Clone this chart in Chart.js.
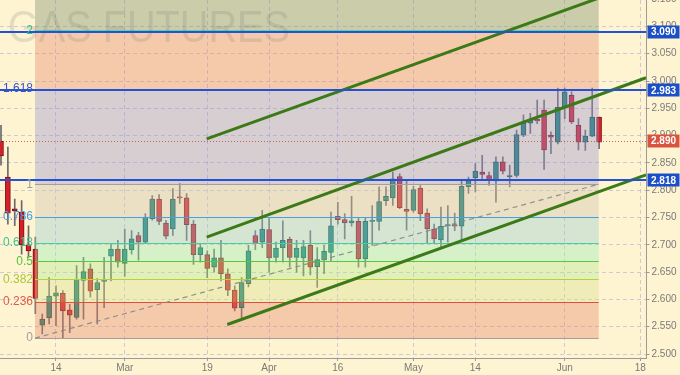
<!DOCTYPE html>
<html>
<head>
<meta charset="utf-8">
<script src="https://cdn.jsdelivr.net/npm/chart.js@4.4.1/dist/chart.umd.min.js"></script>
<style>
html,body{margin:0;padding:0;background:#fef4d2;}
canvas{display:block;}
</style>
</head>
<body>
<canvas id="grafico" width="680" height="375"></canvas>
<script>

// =====================================
// DATA
// =====================================

const opens = [
2.890,2.824,2.766,2.760,2.700,2.692,2.553,2.566,2.606,2.611,
2.581,2.567,2.635,2.656,2.618,2.633,2.679,2.692,2.666,2.691,
2.717,2.705,2.748,2.784,2.740,2.729,2.787,2.786,2.738,2.682,
2.682,2.659,2.676,2.647,2.617,2.585,2.629,2.717,2.705,2.728,
2.677,2.695,2.710,2.677,2.676,2.699,2.660,2.673,2.686,2.752,
2.746,2.740,2.743,2.674,2.743,2.743,2.781,2.786,2.825,2.765,
2.763,2.804,2.758,2.729,2.709,2.735,2.737,2.734,2.806,2.823,
2.833,2.827,2.817,2.852,2.825,2.827,2.901,2.923,2.930,2.947,
2.901,2.888,2.952,2.974,2.919,2.888,2.899,2.934
];

const highs = [
2.919,2.879,2.784,2.781,2.735,2.714,2.573,2.640,2.625,2.616,
2.591,2.662,2.677,2.665,2.638,2.677,2.702,2.708,2.729,2.726,
2.723,2.757,2.790,2.792,2.745,2.803,2.812,2.794,2.745,2.702,
2.689,2.692,2.708,2.656,2.625,2.640,2.699,2.726,2.763,2.748,
2.705,2.744,2.714,2.708,2.708,2.726,2.695,2.699,2.760,2.778,
2.757,2.789,2.749,2.749,2.772,2.806,2.806,2.833,2.830,2.818,
2.807,2.809,2.766,2.738,2.769,2.772,2.758,2.818,2.824,2.849,
2.864,2.833,2.861,2.861,2.846,2.910,2.938,2.941,2.965,2.965,
2.907,2.987,2.987,2.980,2.931,2.910,2.987,2.934
];

const lows = [
2.846,2.738,2.735,2.683,2.677,2.574,2.537,2.555,2.552,2.530,
2.539,2.564,2.564,2.604,2.555,2.585,2.634,2.659,2.642,2.683,
2.672,2.702,2.745,2.737,2.711,2.717,2.776,2.708,2.664,2.668,
2.640,2.650,2.634,2.607,2.579,2.566,2.623,2.691,2.695,2.650,
2.668,2.668,2.659,2.650,2.643,2.645,2.622,2.647,2.671,2.738,
2.711,2.734,2.659,2.659,2.699,2.727,2.772,2.772,2.766,2.727,
2.760,2.744,2.702,2.702,2.695,2.705,2.726,2.708,2.794,2.797,
2.821,2.809,2.778,2.830,2.806,2.824,2.898,2.904,2.922,2.838,
2.867,2.885,2.931,2.922,2.874,2.873,2.898,2.876
];

const closes = [
2.863,2.758,2.762,2.700,2.689,2.602,2.564,2.606,2.612,2.579,
2.571,2.637,2.651,2.615,2.631,2.637,2.692,2.668,2.692,2.711,
2.705,2.751,2.784,2.743,2.716,2.784,2.786,2.737,2.682,2.695,
2.657,2.676,2.647,2.617,2.584,2.631,2.689,2.702,2.729,2.676,
2.694,2.708,2.677,2.694,2.697,2.659,2.673,2.688,2.735,2.746,
2.740,2.744,2.674,2.743,2.745,2.779,2.789,2.821,2.768,2.761,
2.801,2.757,2.729,2.711,2.734,2.737,2.734,2.807,2.817,2.835,
2.829,2.818,2.852,2.835,2.827,2.902,2.923,2.930,2.927,2.874,
2.897,2.952,2.980,2.925,2.888,2.899,2.934,2.888
];

const xTickPos    = [8, 18, 30, 39, 49, 60, 69, 82, 93];
const xTickLabels = ["14","Mar","19","Apr","16","May","14","Jun","18"];

const yTicks = [2.50,2.55,2.60,2.65,2.70,2.75,2.80,2.85,2.90,2.95,3.00,3.05,3.10,3.15];

// fibonacci: anchors (bar index, price) and levels
const fibStart = 4.95;
const fibEnd   = 86.95;
const fibLow   = 2.529;
const fibHigh  = 2.811;
const fibLevels = [0, 0.236, 0.382, 0.5, 0.618, 0.786, 1, 1.618, 2, 2.618];

// horizontal price marks
const blueLevels = [3.090, 2.983, 2.818];
const lastPrice = 2.890;

// channel lines (bar index, price)
const channelUpper  = [{x:29.92, y:2.894}, {x:93.83, y:3.183}];
const channelMiddle = [{x:29.92, y:2.714}, {x:93.83, y:3.006}];
const channelLower  = [{x:32.92, y:2.554}, {x:93.83, y:2.828}];
const fibTrend      = [{x:fibStart, y:fibLow}, {x:fibEnd, y:fibHigh}];


// =====================================
// STYLE
// =====================================

const FONT = "'Liberation Sans', Arial, sans-serif";

const zoneColors = [
    "rgb(232,139,110)",
    "rgb(221,224,145)",
    "rgb(181,234,145)",
    "rgb(156,234,185)",
    "rgb(156,204,210)",
    "rgb(211,194,175)",
    "rgb(158,149,210)",
    "rgb(232,139,110)",
    "rgb(128,147,110)"
];

const levelColors = [
    "#a0a0a0","#e0503c","#b4d23c","#5ac83c","#4ccc9c",
    "#4c9ee0","#a0a0a0","#3050d8","#5cd4a0","#5cd4a0"
];

const labelColors = [
    "#a0a0a0","#e05a46","#a8c83a","#52c43c","#3cc494",
    "#4a9ce0","#a0a0a0","#3a52c8","#3cc094","#3cc094"
];

function fibPrice(lv){
    return fibLow + lv*(fibHigh-fibLow);
}

function subiu(i){
    return closes[i] >= opens[i];
}


// =====================================
// PLUGIN: zonas, linhas e etiquetas
// =====================================

const fibPlugin = {
    id:"fib",

    afterDatasetDraw(chart, args){

        if(args.index !== 1) return;

        const {ctx, chartArea:a, scales:{x, y}} = chart;
        const x1 = x.getPixelForValue(fibStart);
        const x2 = x.getPixelForValue(fibEnd);

        ctx.save();
        ctx.beginPath();
        ctx.rect(a.left, a.top, a.right-a.left, a.bottom-a.top);
        ctx.clip();

        ctx.globalAlpha = 0.4;
        for(let k=0; k<fibLevels.length-1; k++){
            const ya = y.getPixelForValue(fibPrice(fibLevels[k]));
            const yb = y.getPixelForValue(fibPrice(fibLevels[k+1]));
            ctx.fillStyle = zoneColors[k];
            ctx.fillRect(x1, yb, x2-x1, ya-yb);
        }
        ctx.globalAlpha = 1;

        fibLevels.forEach((lv,k)=>{
            const yy = Math.round(y.getPixelForValue(fibPrice(lv))) + 0.5;
            ctx.strokeStyle = levelColors[k];
            ctx.lineWidth = 1;
            ctx.beginPath();
            ctx.moveTo(x1, yy);
            ctx.lineTo(x2, yy);
            ctx.stroke();
        });

        // marca d'agua
        ctx.font = "44px " + FONT;
        ctx.fillStyle = "rgba(105,105,105,0.18)";
        ctx.textBaseline = "alphabetic";
        ctx.textAlign = "left";
        ctx.fillText("GAS FUTURES", 8, 42, 282);

        ctx.restore();
    },

    afterDatasetsDraw(chart){

        const {ctx, chartArea:a, scales:{x, y}} = chart;

        ctx.save();
        ctx.beginPath();
        ctx.rect(a.left, a.top, a.right-a.left, a.bottom-a.top);
        ctx.clip();

        // ultimo preco
        const yl = Math.round(y.getPixelForValue(lastPrice)) + 0.5;
        ctx.strokeStyle = "rgba(205,80,70,0.9)";
        ctx.lineWidth = 1;
        ctx.setLineDash([1,2]);
        ctx.beginPath();
        ctx.moveTo(a.left, yl);
        ctx.lineTo(a.right, yl);
        ctx.stroke();
        ctx.setLineDash([]);

        // linhas azuis
        blueLevels.forEach(p=>{
            const yy = Math.round(y.getPixelForValue(p));
            ctx.strokeStyle = "#2452d6";
            ctx.lineWidth = 2;
            ctx.beginPath();
            ctx.moveTo(a.left, yy);
            ctx.lineTo(a.right, yy);
            ctx.stroke();
        });

        // etiquetas fibonacci
        const xl = x.getPixelForValue(fibStart) - 2;
        ctx.font = "12px " + FONT;
        ctx.textAlign = "right";
        ctx.textBaseline = "middle";
        fibLevels.forEach((lv,k)=>{
            ctx.fillStyle = labelColors[k];
            ctx.fillText(String(lv), xl, y.getPixelForValue(fibPrice(lv)));
        });

        ctx.restore();
    },

    afterDraw(chart){

        const {ctx, chartArea:a, scales:{y}} = chart;

        const caixa = (p, cor)=>{
            const yy = y.getPixelForValue(p);
            ctx.fillStyle = cor;
            ctx.fillRect(a.right+1, Math.round(yy)-6.5, 32, 13);
            ctx.fillStyle = "#ffffff";
            ctx.font = "bold 10px " + FONT;
            ctx.textAlign = "center";
            ctx.textBaseline = "middle";
            ctx.fillText(p.toFixed(3), a.right+17, yy+0.5);
        };

        ctx.save();
        blueLevels.forEach(p=>caixa(p, "#1a4fc8"));
        caixa(lastPrice, "#d9533f");
        ctx.restore();
    }
};


// =====================================
// GRAFICO
// =====================================

const gridOpts = {
    color:"rgba(165,165,215,0.55)",
    tickColor:"#9a9a9a",
    tickLength:3,
    lineWidth:1,
    offset:false
};

const grafico = new Chart(document.getElementById("grafico"),{

    type:"bar",

    data:{
        datasets:[
            {
                label:"wicks",
                data: opens.map((o,i)=>({x:i, y:[lows[i], highs[i]]})),
                backgroundColor:"#6a6a6a",
                barThickness:1,
                grouped:false,
                order:10
            },
            {
                label:"bodies",
                data: opens.map((o,i)=>({x:i, y:[o, closes[i]]})),
                backgroundColor: c => subiu(c.dataIndex) ? "rgb(25,128,112)" : "rgb(212,32,40)",
                borderColor: c => subiu(c.dataIndex) ? "rgb(15,78,68)" : "rgb(125,12,18)",
                borderWidth:1,
                borderSkipped:false,
                minBarLength:1,
                barThickness:5,
                grouped:false,
                order:9
            },
            {
                type:"line", data:channelUpper,
                borderColor:"#3b7a16", borderWidth:3, pointRadius:0, order:1
            },
            {
                type:"line", data:channelMiddle,
                borderColor:"#3b7a16", borderWidth:3, pointRadius:0, order:1
            },
            {
                type:"line", data:channelLower,
                borderColor:"#3b7a16", borderWidth:3, pointRadius:0, order:1
            },
            {
                type:"line", data:fibTrend,
                borderColor:"rgba(135,135,135,0.9)", borderWidth:1.2,
                borderDash:[5,4], pointRadius:0, order:2
            }
        ]
    },

    options:{
        responsive:false,
        animation:false,
        devicePixelRatio:1,
        layout:{ padding:0 },
        plugins:{
            legend:{ display:false },
            tooltip:{ enabled:false }
        },
        scales:{
            x:{
                type:"linear",
                offset:false,
                min:-0.1455,
                max:93.9,
                afterBuildTicks: s => { s.ticks = xTickPos.map(v=>({value:v})); },
                afterFit: s => { s.height = 17; s.paddingLeft = 0; s.paddingRight = 0; },
                grid: gridOpts,
                border:{ color:"#9a9a9a", dash:[4,3] },
                ticks:{
                    autoSkip:false,
                    maxRotation:0,
                    padding:1,
                    color:"#7a7a7a",
                    font:{ family:FONT, size:10 },
                    callback:(v,i)=>xTickLabels[i]
                }
            },
            y:{
                type:"linear",
                position:"right",
                min:2.4927,
                max:3.1484,
                afterBuildTicks: s => { s.ticks = yTicks.map(v=>({value:v})); },
                afterFit: s => { s.width = 33.5; s.paddingTop = 0; s.paddingBottom = 0; },
                grid: gridOpts,
                border:{ color:"#9a9a9a", dash:[4,3] },
                ticks:{
                    padding:2,
                    color:"#7a7a7a",
                    font:{ family:FONT, size:10 },
                    callback: v => v.toFixed(3)
                }
            }
        }
    },

    plugins:[fibPlugin]
});

</script>
</body>
</html>
